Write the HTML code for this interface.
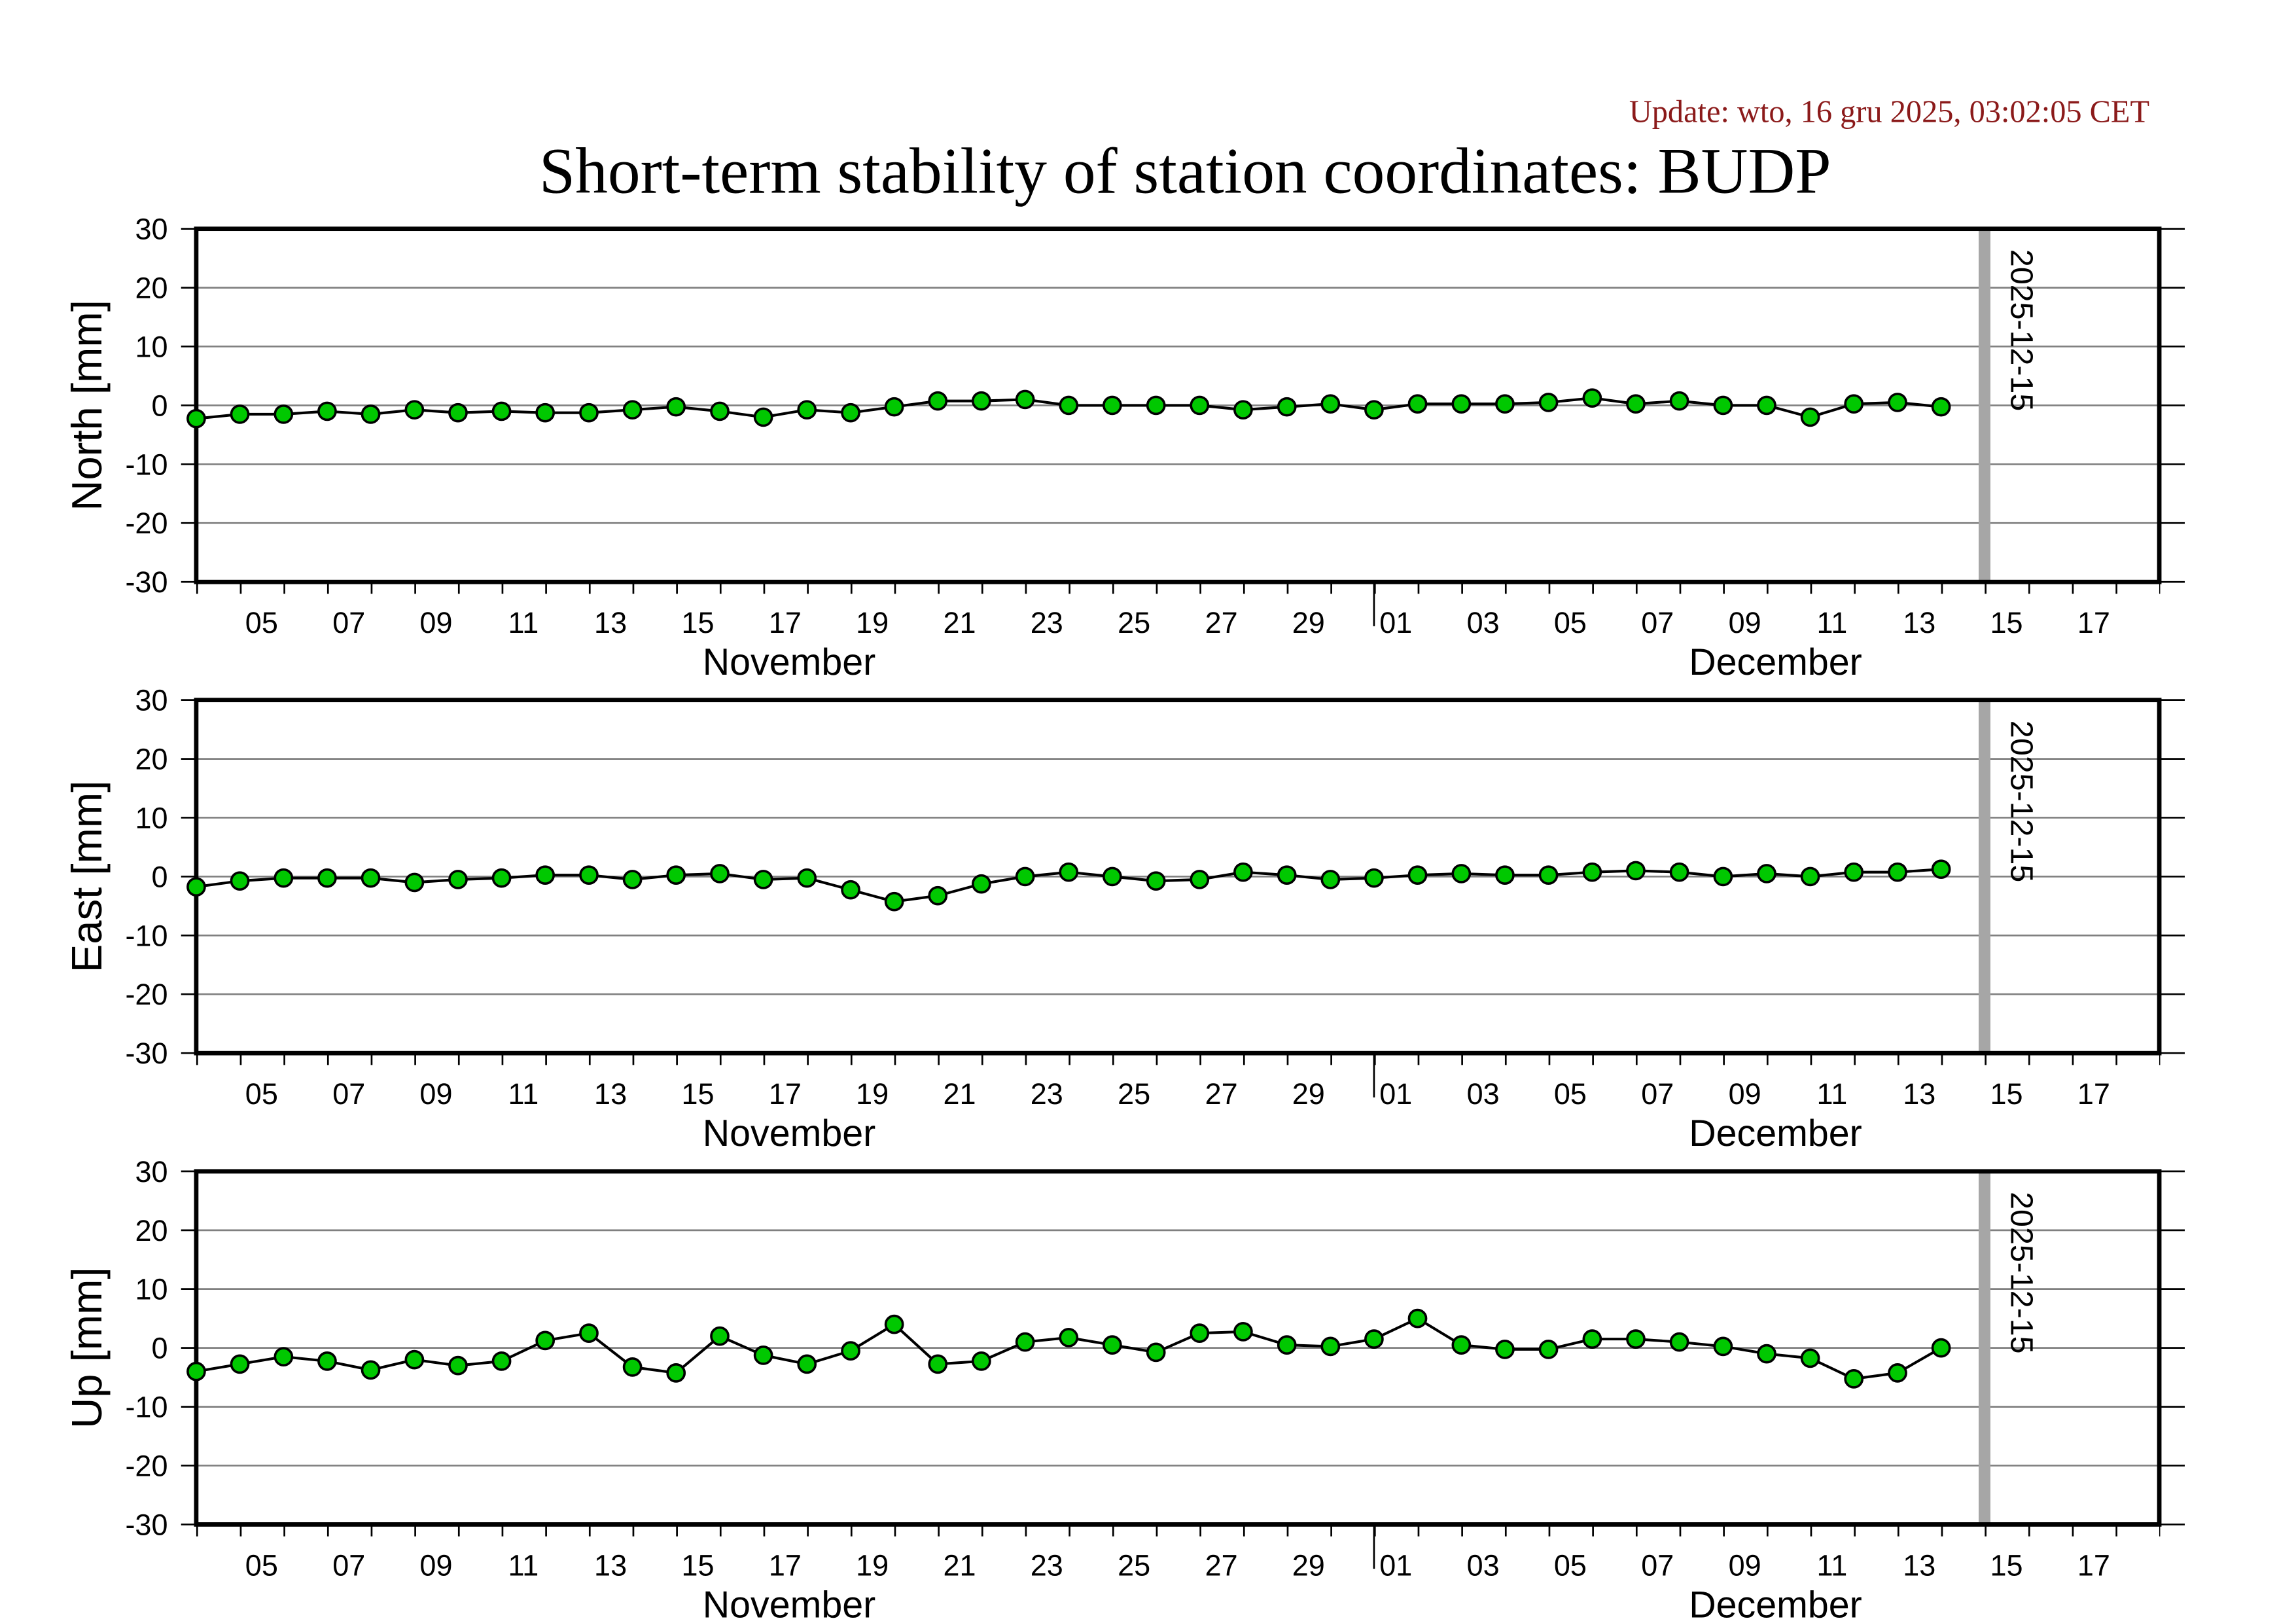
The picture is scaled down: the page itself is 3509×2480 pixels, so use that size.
<!DOCTYPE html>
<html><head><meta charset="utf-8"><style>
html,body{margin:0;padding:0;background:#fff;}
svg{display:block;}
text{font-family:"Liberation Sans",sans-serif;}
</style></head><body>
<svg width="3509" height="2480" viewBox="0 0 1559.56 1102.22" xmlns="http://www.w3.org/2000/svg">
<rect width="1559.56" height="1102.22" fill="#fff"/>
<text x="1460" y="83" text-anchor="end" style="font-family:'Liberation Serif',serif" font-size="21.5" fill="#8b1a1a">Update: wto, 16 gru 2025, 03:02:05 CET</text>
<text x="805" y="131" text-anchor="middle" style="font-family:'Liberation Serif',serif" font-size="44.2">Short-term stability of station coordinates: BUDP</text>

<g transform="translate(0,275.3)">
 <g stroke="#808080" stroke-width="1.2">
  <line x1="133.3" x2="1466.7" y1="-79.9" y2="-79.9"/><line x1="133.3" x2="1466.7" y1="-40" y2="-40"/>
  <line x1="133.3" x2="1466.7" y1="0" y2="0"/><line x1="133.3" x2="1466.7" y1="40" y2="40"/><line x1="133.3" x2="1466.7" y1="79.9" y2="79.9"/>
 </g>
 <rect x="1344" y="-119.9" width="8" height="239.8" fill="#a6a6a6"/>
 <text transform="translate(1366,-106) rotate(90)" font-size="21.5">2025-12-15</text>
 <g stroke="#000" stroke-width="1.2">
  <line x1="123" x2="133.3" y1="-119.9" y2="-119.9"/><line x1="123" x2="133.3" y1="-79.9" y2="-79.9"/><line x1="123" x2="133.3" y1="-40" y2="-40"/><line x1="123" x2="133.3" y1="0" y2="0"/><line x1="123" x2="133.3" y1="40" y2="40"/><line x1="123" x2="133.3" y1="79.9" y2="79.9"/><line x1="123" x2="133.3" y1="119.9" y2="119.9"/>
  <line x1="1466.7" x2="1484" y1="-119.9" y2="-119.9"/><line x1="1466.7" x2="1484" y1="-79.9" y2="-79.9"/><line x1="1466.7" x2="1484" y1="-40" y2="-40"/><line x1="1466.7" x2="1484" y1="0" y2="0"/><line x1="1466.7" x2="1484" y1="40" y2="40"/><line x1="1466.7" x2="1484" y1="79.9" y2="79.9"/><line x1="1466.7" x2="1484" y1="119.9" y2="119.9"/>
  <line x1="133.3" x2="1467.3" y1="124" y2="124" stroke-width="8" stroke-dasharray="1.2 28.43"/>
  <line x1="933.3" x2="933.3" y1="119.9" y2="150"/>
 </g>
 <rect x="133.3" y="-119.9" width="1333.4" height="239.8" fill="none" stroke="#000" stroke-width="3"/>
 <g font-size="20" text-anchor="end">
  <text x="114" y="-112.8">30</text><text x="114" y="-72.8">20</text><text x="114" y="-32.9">10</text><text x="114" y="7.1">0</text><text x="114" y="47.1">-10</text><text x="114" y="87">-20</text><text x="114" y="127">-30</text>
 </g>
 <g font-size="20" text-anchor="middle">
  <text x="177.7" y="154.5">05</text><text x="237" y="154.5">07</text><text x="296.2" y="154.5">09</text><text x="355.5" y="154.5">11</text><text x="414.7" y="154.5">13</text><text x="474" y="154.5">15</text><text x="533.3" y="154.5">17</text><text x="592.5" y="154.5">19</text><text x="651.8" y="154.5">21</text><text x="711" y="154.5">23</text><text x="770.3" y="154.5">25</text><text x="829.6" y="154.5">27</text><text x="888.8" y="154.5">29</text><text x="948.1" y="154.5">01</text><text x="1007.4" y="154.5">03</text><text x="1066.6" y="154.5">05</text><text x="1125.9" y="154.5">07</text><text x="1185.2" y="154.5">09</text><text x="1244.4" y="154.5">11</text><text x="1303.7" y="154.5">13</text><text x="1362.9" y="154.5">15</text><text x="1422.2" y="154.5">17</text>
  <text x="536" y="183" font-size="25.5">November</text><text x="1206" y="183" font-size="25.5">December</text>
 </g>
 <text transform="translate(69,0) rotate(-90)" text-anchor="middle" font-size="29">North [mm]</text>
 <polyline fill="none" stroke="#000" stroke-width="1.8" points="133.3,9 162.9,6 192.6,6 222.2,4 251.8,6 281.5,3 311.1,5 340.7,4 370.3,5 400,5 429.6,3 459.2,1 488.9,4 518.5,8 548.1,3 577.8,5 607.4,1 637,-3 666.6,-3 696.3,-4 725.9,0 755.5,0 785.2,0 814.8,0 844.4,3 874.1,1 903.7,-1 933.3,3 962.9,-1 992.6,-1 1022.2,-1 1051.8,-2 1081.5,-5 1111.1,-1 1140.7,-3 1170.4,0 1200,0 1229.6,8 1259.2,-1 1288.9,-2 1318.5,1"/>
 <g fill="#00c800" stroke="#000" stroke-width="1.6">
  <circle cx="133.3" cy="9" r="5.8"/><circle cx="162.9" cy="6" r="5.8"/><circle cx="192.6" cy="6" r="5.8"/><circle cx="222.2" cy="4" r="5.8"/><circle cx="251.8" cy="6" r="5.8"/><circle cx="281.5" cy="3" r="5.8"/><circle cx="311.1" cy="5" r="5.8"/><circle cx="340.7" cy="4" r="5.8"/><circle cx="370.3" cy="5" r="5.8"/><circle cx="400" cy="5" r="5.8"/><circle cx="429.6" cy="3" r="5.8"/><circle cx="459.2" cy="1" r="5.8"/><circle cx="488.9" cy="4" r="5.8"/><circle cx="518.5" cy="8" r="5.8"/><circle cx="548.1" cy="3" r="5.8"/><circle cx="577.8" cy="5" r="5.8"/><circle cx="607.4" cy="1" r="5.8"/><circle cx="637" cy="-3" r="5.8"/><circle cx="666.6" cy="-3" r="5.8"/><circle cx="696.3" cy="-4" r="5.8"/><circle cx="725.9" cy="0" r="5.8"/><circle cx="755.5" cy="0" r="5.8"/><circle cx="785.2" cy="0" r="5.8"/><circle cx="814.8" cy="0" r="5.8"/><circle cx="844.4" cy="3" r="5.8"/><circle cx="874.1" cy="1" r="5.8"/><circle cx="903.7" cy="-1" r="5.8"/><circle cx="933.3" cy="3" r="5.8"/><circle cx="962.9" cy="-1" r="5.8"/><circle cx="992.6" cy="-1" r="5.8"/><circle cx="1022.2" cy="-1" r="5.8"/><circle cx="1051.8" cy="-2" r="5.8"/><circle cx="1081.5" cy="-5" r="5.8"/><circle cx="1111.1" cy="-1" r="5.8"/><circle cx="1140.7" cy="-3" r="5.8"/><circle cx="1170.4" cy="0" r="5.8"/><circle cx="1200" cy="0" r="5.8"/><circle cx="1229.6" cy="8" r="5.8"/><circle cx="1259.2" cy="-1" r="5.8"/><circle cx="1288.9" cy="-2" r="5.8"/><circle cx="1318.5" cy="1" r="5.8"/>
 </g>
</g>

<g transform="translate(0,595.3)">
 <g stroke="#808080" stroke-width="1.2">
  <line x1="133.3" x2="1466.7" y1="-79.9" y2="-79.9"/><line x1="133.3" x2="1466.7" y1="-40" y2="-40"/>
  <line x1="133.3" x2="1466.7" y1="0" y2="0"/><line x1="133.3" x2="1466.7" y1="40" y2="40"/><line x1="133.3" x2="1466.7" y1="79.9" y2="79.9"/>
 </g>
 <rect x="1344" y="-119.9" width="8" height="239.8" fill="#a6a6a6"/>
 <text transform="translate(1366,-106) rotate(90)" font-size="21.5">2025-12-15</text>
 <g stroke="#000" stroke-width="1.2">
  <line x1="123" x2="133.3" y1="-119.9" y2="-119.9"/><line x1="123" x2="133.3" y1="-79.9" y2="-79.9"/><line x1="123" x2="133.3" y1="-40" y2="-40"/><line x1="123" x2="133.3" y1="0" y2="0"/><line x1="123" x2="133.3" y1="40" y2="40"/><line x1="123" x2="133.3" y1="79.9" y2="79.9"/><line x1="123" x2="133.3" y1="119.9" y2="119.9"/>
  <line x1="1466.7" x2="1484" y1="-119.9" y2="-119.9"/><line x1="1466.7" x2="1484" y1="-79.9" y2="-79.9"/><line x1="1466.7" x2="1484" y1="-40" y2="-40"/><line x1="1466.7" x2="1484" y1="0" y2="0"/><line x1="1466.7" x2="1484" y1="40" y2="40"/><line x1="1466.7" x2="1484" y1="79.9" y2="79.9"/><line x1="1466.7" x2="1484" y1="119.9" y2="119.9"/>
  <line x1="133.3" x2="1467.3" y1="124" y2="124" stroke-width="8" stroke-dasharray="1.2 28.43"/>
  <line x1="933.3" x2="933.3" y1="119.9" y2="150"/>
 </g>
 <rect x="133.3" y="-119.9" width="1333.4" height="239.8" fill="none" stroke="#000" stroke-width="3"/>
 <g font-size="20" text-anchor="end">
  <text x="114" y="-112.8">30</text><text x="114" y="-72.8">20</text><text x="114" y="-32.9">10</text><text x="114" y="7.1">0</text><text x="114" y="47.1">-10</text><text x="114" y="87">-20</text><text x="114" y="127">-30</text>
 </g>
 <g font-size="20" text-anchor="middle">
  <text x="177.7" y="154.5">05</text><text x="237" y="154.5">07</text><text x="296.2" y="154.5">09</text><text x="355.5" y="154.5">11</text><text x="414.7" y="154.5">13</text><text x="474" y="154.5">15</text><text x="533.3" y="154.5">17</text><text x="592.5" y="154.5">19</text><text x="651.8" y="154.5">21</text><text x="711" y="154.5">23</text><text x="770.3" y="154.5">25</text><text x="829.6" y="154.5">27</text><text x="888.8" y="154.5">29</text><text x="948.1" y="154.5">01</text><text x="1007.4" y="154.5">03</text><text x="1066.6" y="154.5">05</text><text x="1125.9" y="154.5">07</text><text x="1185.2" y="154.5">09</text><text x="1244.4" y="154.5">11</text><text x="1303.7" y="154.5">13</text><text x="1362.9" y="154.5">15</text><text x="1422.2" y="154.5">17</text>
  <text x="536" y="183" font-size="25.5">November</text><text x="1206" y="183" font-size="25.5">December</text>
 </g>
 <text transform="translate(69,0) rotate(-90)" text-anchor="middle" font-size="29">East [mm]</text>
 <polyline fill="none" stroke="#000" stroke-width="1.8" points="133.3,7 162.9,3 192.6,1 222.2,1 251.8,1 281.5,4 311.1,2 340.7,1 370.3,-1 400,-1 429.6,2 459.2,-1 488.9,-2 518.5,2 548.1,1 577.8,9 607.4,17 637,13 666.6,5 696.3,0 725.9,-3 755.5,0 785.2,3 814.8,2 844.4,-3 874.1,-1 903.7,2 933.3,1 962.9,-1 992.6,-2 1022.2,-1 1051.8,-1 1081.5,-3 1111.1,-4 1140.7,-3 1170.4,0 1200,-2 1229.6,0 1259.2,-3 1288.9,-3 1318.5,-5"/>
 <g fill="#00c800" stroke="#000" stroke-width="1.6">
  <circle cx="133.3" cy="7" r="5.8"/><circle cx="162.9" cy="3" r="5.8"/><circle cx="192.6" cy="1" r="5.8"/><circle cx="222.2" cy="1" r="5.8"/><circle cx="251.8" cy="1" r="5.8"/><circle cx="281.5" cy="4" r="5.8"/><circle cx="311.1" cy="2" r="5.8"/><circle cx="340.7" cy="1" r="5.8"/><circle cx="370.3" cy="-1" r="5.8"/><circle cx="400" cy="-1" r="5.8"/><circle cx="429.6" cy="2" r="5.8"/><circle cx="459.2" cy="-1" r="5.8"/><circle cx="488.9" cy="-2" r="5.8"/><circle cx="518.5" cy="2" r="5.8"/><circle cx="548.1" cy="1" r="5.8"/><circle cx="577.8" cy="9" r="5.8"/><circle cx="607.4" cy="17" r="5.8"/><circle cx="637" cy="13" r="5.8"/><circle cx="666.6" cy="5" r="5.8"/><circle cx="696.3" cy="0" r="5.8"/><circle cx="725.9" cy="-3" r="5.8"/><circle cx="755.5" cy="0" r="5.8"/><circle cx="785.2" cy="3" r="5.8"/><circle cx="814.8" cy="2" r="5.8"/><circle cx="844.4" cy="-3" r="5.8"/><circle cx="874.1" cy="-1" r="5.8"/><circle cx="903.7" cy="2" r="5.8"/><circle cx="933.3" cy="1" r="5.8"/><circle cx="962.9" cy="-1" r="5.8"/><circle cx="992.6" cy="-2" r="5.8"/><circle cx="1022.2" cy="-1" r="5.8"/><circle cx="1051.8" cy="-1" r="5.8"/><circle cx="1081.5" cy="-3" r="5.8"/><circle cx="1111.1" cy="-4" r="5.8"/><circle cx="1140.7" cy="-3" r="5.8"/><circle cx="1170.4" cy="0" r="5.8"/><circle cx="1200" cy="-2" r="5.8"/><circle cx="1229.6" cy="0" r="5.8"/><circle cx="1259.2" cy="-3" r="5.8"/><circle cx="1288.9" cy="-3" r="5.8"/><circle cx="1318.5" cy="-5" r="5.8"/>
 </g>
</g>

<g transform="translate(0,915.4)">
 <g stroke="#808080" stroke-width="1.2">
  <line x1="133.3" x2="1466.7" y1="-79.9" y2="-79.9"/><line x1="133.3" x2="1466.7" y1="-40" y2="-40"/>
  <line x1="133.3" x2="1466.7" y1="0" y2="0"/><line x1="133.3" x2="1466.7" y1="40" y2="40"/><line x1="133.3" x2="1466.7" y1="79.9" y2="79.9"/>
 </g>
 <rect x="1344" y="-119.9" width="8" height="239.8" fill="#a6a6a6"/>
 <text transform="translate(1366,-106) rotate(90)" font-size="21.5">2025-12-15</text>
 <g stroke="#000" stroke-width="1.2">
  <line x1="123" x2="133.3" y1="-119.9" y2="-119.9"/><line x1="123" x2="133.3" y1="-79.9" y2="-79.9"/><line x1="123" x2="133.3" y1="-40" y2="-40"/><line x1="123" x2="133.3" y1="0" y2="0"/><line x1="123" x2="133.3" y1="40" y2="40"/><line x1="123" x2="133.3" y1="79.9" y2="79.9"/><line x1="123" x2="133.3" y1="119.9" y2="119.9"/>
  <line x1="1466.7" x2="1484" y1="-119.9" y2="-119.9"/><line x1="1466.7" x2="1484" y1="-79.9" y2="-79.9"/><line x1="1466.7" x2="1484" y1="-40" y2="-40"/><line x1="1466.7" x2="1484" y1="0" y2="0"/><line x1="1466.7" x2="1484" y1="40" y2="40"/><line x1="1466.7" x2="1484" y1="79.9" y2="79.9"/><line x1="1466.7" x2="1484" y1="119.9" y2="119.9"/>
  <line x1="133.3" x2="1467.3" y1="124" y2="124" stroke-width="8" stroke-dasharray="1.2 28.43"/>
  <line x1="933.3" x2="933.3" y1="119.9" y2="150"/>
 </g>
 <rect x="133.3" y="-119.9" width="1333.4" height="239.8" fill="none" stroke="#000" stroke-width="3"/>
 <g font-size="20" text-anchor="end">
  <text x="114" y="-112.8">30</text><text x="114" y="-72.8">20</text><text x="114" y="-32.9">10</text><text x="114" y="7.1">0</text><text x="114" y="47.1">-10</text><text x="114" y="87">-20</text><text x="114" y="127">-30</text>
 </g>
 <g font-size="20" text-anchor="middle">
  <text x="177.7" y="154.5">05</text><text x="237" y="154.5">07</text><text x="296.2" y="154.5">09</text><text x="355.5" y="154.5">11</text><text x="414.7" y="154.5">13</text><text x="474" y="154.5">15</text><text x="533.3" y="154.5">17</text><text x="592.5" y="154.5">19</text><text x="651.8" y="154.5">21</text><text x="711" y="154.5">23</text><text x="770.3" y="154.5">25</text><text x="829.6" y="154.5">27</text><text x="888.8" y="154.5">29</text><text x="948.1" y="154.5">01</text><text x="1007.4" y="154.5">03</text><text x="1066.6" y="154.5">05</text><text x="1125.9" y="154.5">07</text><text x="1185.2" y="154.5">09</text><text x="1244.4" y="154.5">11</text><text x="1303.7" y="154.5">13</text><text x="1362.9" y="154.5">15</text><text x="1422.2" y="154.5">17</text>
  <text x="536" y="183" font-size="25.5">November</text><text x="1206" y="183" font-size="25.5">December</text>
 </g>
 <text transform="translate(69,0) rotate(-90)" text-anchor="middle" font-size="29">Up [mm]</text>
 <polyline fill="none" stroke="#000" stroke-width="1.8" points="133.3,16 162.9,11 192.6,6 222.2,9 251.8,15 281.5,8 311.1,12 340.7,9 370.3,-5 400,-10 429.6,13 459.2,17 488.9,-8 518.5,5 548.1,11 577.8,2 607.4,-16 637,11 666.6,9 696.3,-4 725.9,-7 755.5,-2 785.2,3 814.8,-10 844.4,-11 874.1,-2 903.7,-1 933.3,-6 962.9,-20 992.6,-2 1022.2,1 1051.8,1 1081.5,-6 1111.1,-6 1140.7,-4 1170.4,-1 1200,4 1229.6,7 1259.2,21 1288.9,17 1318.5,0"/>
 <g fill="#00c800" stroke="#000" stroke-width="1.6">
  <circle cx="133.3" cy="16" r="5.8"/><circle cx="162.9" cy="11" r="5.8"/><circle cx="192.6" cy="6" r="5.8"/><circle cx="222.2" cy="9" r="5.8"/><circle cx="251.8" cy="15" r="5.8"/><circle cx="281.5" cy="8" r="5.8"/><circle cx="311.1" cy="12" r="5.8"/><circle cx="340.7" cy="9" r="5.8"/><circle cx="370.3" cy="-5" r="5.8"/><circle cx="400" cy="-10" r="5.8"/><circle cx="429.6" cy="13" r="5.8"/><circle cx="459.2" cy="17" r="5.8"/><circle cx="488.9" cy="-8" r="5.8"/><circle cx="518.5" cy="5" r="5.8"/><circle cx="548.1" cy="11" r="5.8"/><circle cx="577.8" cy="2" r="5.8"/><circle cx="607.4" cy="-16" r="5.8"/><circle cx="637" cy="11" r="5.8"/><circle cx="666.6" cy="9" r="5.8"/><circle cx="696.3" cy="-4" r="5.8"/><circle cx="725.9" cy="-7" r="5.8"/><circle cx="755.5" cy="-2" r="5.8"/><circle cx="785.2" cy="3" r="5.8"/><circle cx="814.8" cy="-10" r="5.8"/><circle cx="844.4" cy="-11" r="5.8"/><circle cx="874.1" cy="-2" r="5.8"/><circle cx="903.7" cy="-1" r="5.8"/><circle cx="933.3" cy="-6" r="5.8"/><circle cx="962.9" cy="-20" r="5.8"/><circle cx="992.6" cy="-2" r="5.8"/><circle cx="1022.2" cy="1" r="5.8"/><circle cx="1051.8" cy="1" r="5.8"/><circle cx="1081.5" cy="-6" r="5.8"/><circle cx="1111.1" cy="-6" r="5.8"/><circle cx="1140.7" cy="-4" r="5.8"/><circle cx="1170.4" cy="-1" r="5.8"/><circle cx="1200" cy="4" r="5.8"/><circle cx="1229.6" cy="7" r="5.8"/><circle cx="1259.2" cy="21" r="5.8"/><circle cx="1288.9" cy="17" r="5.8"/><circle cx="1318.5" cy="0" r="5.8"/>
 </g>
</g>
</svg>
</body></html>
